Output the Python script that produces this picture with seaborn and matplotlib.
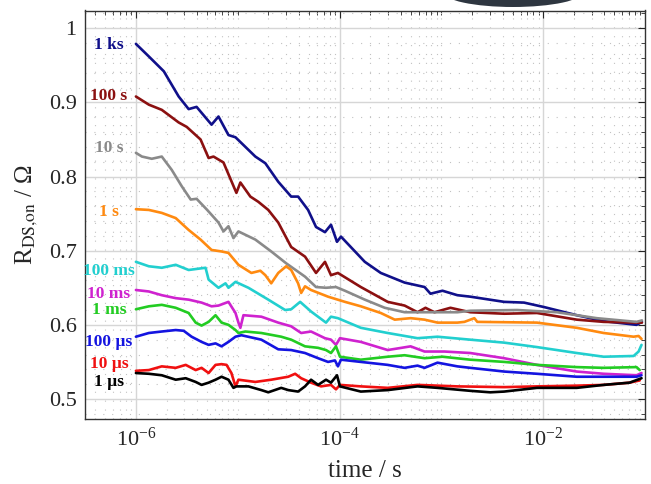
import numpy as np
import pandas as pd
import matplotlib
matplotlib.use("Agg")
import matplotlib.pyplot as plt
import seaborn as sns
from matplotlib.ticker import FixedLocator, LogLocator, MultipleLocator, FuncFormatter, LogFormatterMathtext, NullFormatter
from matplotlib.patches import Ellipse

# ---------------- data (time given as log10 exponent, resistance in Ohm) ----------------
labels = ['1 ks', '100 s', '10 s', '1 s', '100 ms', '10 ms', '1 ms', '100 µs', '10 µs', '1 µs']
colors = ['#10108a', '#8b1010', '#8a8a8a', '#ff8a10', '#22cfcf', '#cf22cf', '#22cc22', '#1414e0', '#f01010', '#000000']
label_y = [0.978, 0.908, 0.839, 0.752, 0.673, 0.641, 0.620, 0.577, 0.547, 0.523]

e_1ks = [-6.0, -5.873, -5.726, -5.580, -5.482, -5.404, -5.257, -5.189, -5.091, -5.022, -4.827, -4.729, -4.602, -4.475, -4.407, -4.309, -4.231, -4.143, -4.084, -4.025, -3.986, -3.752, -3.595, -3.361, -3.165, -3.107, -2.989, -2.843, -2.716, -2.383, -2.188, -1.992, -1.670, -1.406, -1.083, -1.03]
r_1ks = [0.979, 0.962, 0.942, 0.908, 0.891, 0.894, 0.870, 0.881, 0.856, 0.853, 0.827, 0.818, 0.793, 0.773, 0.773, 0.755, 0.732, 0.725, 0.735, 0.712, 0.719, 0.685, 0.670, 0.657, 0.651, 0.642, 0.646, 0.640, 0.638, 0.631, 0.630, 0.624, 0.613, 0.605, 0.600, 0.604]

e_100s = [-6.0, -5.873, -5.746, -5.580, -5.501, -5.365, -5.286, -5.238, -5.140, -5.013, -4.974, -4.876, -4.798, -4.700, -4.602, -4.475, -4.339, -4.231, -4.143, -4.084, -4.016, -3.791, -3.527, -3.361, -3.234, -3.156, -3.068, -2.911, -2.716, -2.383, -2.061, -1.670, -1.406, -1.083, -1.03]
r_100s = [0.908, 0.897, 0.890, 0.873, 0.867, 0.850, 0.825, 0.827, 0.819, 0.778, 0.792, 0.773, 0.766, 0.755, 0.738, 0.705, 0.692, 0.670, 0.685, 0.667, 0.670, 0.651, 0.631, 0.626, 0.617, 0.623, 0.617, 0.623, 0.617, 0.615, 0.616, 0.607, 0.604, 0.603, 0.603]

e_10s = [-6.0, -5.941, -5.844, -5.746, -5.648, -5.550, -5.462, -5.404, -5.300, -5.189, -5.140, -5.091, -5.042, -4.993, -4.827, -4.671, -4.524, -4.339, -4.231, -4.133, -4.035, -3.947, -3.752, -3.556, -3.361, -3.165, -2.843, -2.716, -2.256, -1.865, -1.474, -1.083, -1.03]
r_10s = [0.832, 0.827, 0.824, 0.827, 0.809, 0.787, 0.769, 0.770, 0.755, 0.738, 0.726, 0.733, 0.717, 0.726, 0.715, 0.699, 0.683, 0.665, 0.651, 0.650, 0.651, 0.646, 0.634, 0.623, 0.617, 0.617, 0.617, 0.619, 0.620, 0.617, 0.609, 0.604, 0.606]

e_1s = [-6.0, -5.873, -5.746, -5.609, -5.482, -5.365, -5.257, -5.159, -5.091, -4.993, -4.866, -4.778, -4.729, -4.671, -4.602, -4.524, -4.475, -4.407, -4.377, -4.339, -4.280, -4.113, -3.947, -3.791, -3.595, -3.458, -3.302, -3.165, -3.038, -2.843, -2.774, -2.676, -2.647, -2.061, -1.670, -1.406, -1.112, -1.063, -1.034]
r_1s = [0.756, 0.755, 0.751, 0.744, 0.728, 0.715, 0.701, 0.699, 0.697, 0.681, 0.670, 0.673, 0.667, 0.656, 0.670, 0.679, 0.674, 0.656, 0.643, 0.652, 0.647, 0.638, 0.631, 0.625, 0.616, 0.607, 0.609, 0.607, 0.603, 0.603, 0.604, 0.609, 0.604, 0.603, 0.596, 0.589, 0.584, 0.585, 0.581]

e_100ms = [-6.0, -5.873, -5.746, -5.609, -5.482, -5.316, -5.286, -5.189, -5.120, -5.091, -5.022, -4.895, -4.700, -4.534, -4.475, -4.387, -4.280, -4.133, -4.084, -4.016, -3.791, -3.527, -3.234, -3.038, -2.716, -2.383, -2.061, -1.670, -1.406, -1.112, -1.063, -1.034]
r_100ms = [0.685, 0.679, 0.677, 0.681, 0.674, 0.677, 0.661, 0.650, 0.656, 0.650, 0.658, 0.650, 0.634, 0.620, 0.621, 0.631, 0.618, 0.603, 0.611, 0.609, 0.596, 0.589, 0.582, 0.584, 0.580, 0.576, 0.570, 0.562, 0.557, 0.558, 0.564, 0.573]

e_10ms = [-6.0, -5.873, -5.746, -5.609, -5.482, -5.355, -5.257, -5.189, -5.091, -5.022, -4.993, -4.974, -4.944, -4.768, -4.602, -4.475, -4.377, -4.280, -4.143, -4.084, -4.035, -3.996, -3.791, -3.527, -3.302, -3.165, -2.970, -2.716, -2.383, -2.061, -1.670, -1.406, -1.083, -1.034]
r_10ms = [0.647, 0.645, 0.640, 0.636, 0.634, 0.630, 0.625, 0.626, 0.631, 0.616, 0.603, 0.596, 0.613, 0.611, 0.603, 0.598, 0.589, 0.591, 0.582, 0.580, 0.573, 0.582, 0.577, 0.566, 0.571, 0.564, 0.564, 0.562, 0.555, 0.546, 0.537, 0.534, 0.532, 0.535]

e_1ms = [-6.0, -5.873, -5.746, -5.609, -5.482, -5.413, -5.355, -5.286, -5.218, -5.159, -5.091, -5.022, -4.993, -4.925, -4.768, -4.573, -4.475, -4.339, -4.211, -4.133, -4.084, -4.035, -3.996, -3.791, -3.527, -3.361, -3.165, -2.989, -2.716, -2.383, -2.061, -1.670, -1.406, -1.083, -1.052]
r_1ms = [0.621, 0.625, 0.627, 0.623, 0.616, 0.603, 0.599, 0.604, 0.613, 0.603, 0.600, 0.593, 0.589, 0.591, 0.589, 0.584, 0.580, 0.571, 0.569, 0.566, 0.562, 0.571, 0.557, 0.553, 0.557, 0.559, 0.555, 0.557, 0.553, 0.550, 0.546, 0.543, 0.542, 0.543, 0.539]

e_100us = [-6.0, -5.873, -5.746, -5.609, -5.531, -5.453, -5.355, -5.286, -5.218, -5.159, -5.091, -5.022, -4.964, -4.768, -4.602, -4.475, -4.339, -4.211, -4.113, -4.045, -4.016, -3.986, -3.791, -3.527, -3.361, -3.234, -3.165, -3.038, -2.843, -2.716, -2.383, -2.061, -1.670, -1.406, -1.083, -1.034]
r_100us = [0.584, 0.589, 0.591, 0.593, 0.592, 0.584, 0.577, 0.573, 0.575, 0.571, 0.577, 0.584, 0.586, 0.580, 0.567, 0.566, 0.562, 0.555, 0.550, 0.552, 0.544, 0.553, 0.550, 0.546, 0.542, 0.545, 0.542, 0.549, 0.544, 0.542, 0.537, 0.534, 0.530, 0.530, 0.530, 0.532]

e_10us = [-6.0, -5.873, -5.746, -5.609, -5.511, -5.413, -5.355, -5.286, -5.218, -5.159, -5.110, -5.062, -5.022, -4.993, -4.827, -4.671, -4.504, -4.436, -4.377, -4.280, -4.182, -4.084, -4.035, -3.996, -3.791, -3.527, -3.234, -2.843, -2.383, -2.061, -1.670, -1.406, -1.152, -1.052]
r_10us = [0.538, 0.539, 0.544, 0.542, 0.546, 0.539, 0.542, 0.535, 0.546, 0.547, 0.546, 0.535, 0.517, 0.526, 0.523, 0.526, 0.530, 0.534, 0.528, 0.522, 0.517, 0.519, 0.513, 0.519, 0.517, 0.515, 0.519, 0.517, 0.516, 0.517, 0.518, 0.519, 0.522, 0.525]

e_1us = [-6.0, -5.873, -5.746, -5.609, -5.511, -5.413, -5.355, -5.286, -5.218, -5.159, -5.091, -5.042, -5.013, -4.895, -4.768, -4.700, -4.573, -4.504, -4.407, -4.339, -4.280, -4.211, -4.133, -4.084, -4.025, -3.996, -3.791, -3.527, -3.234, -3.038, -2.716, -2.520, -2.383, -2.061, -1.670, -1.406, -1.152, -1.034]
r_1us = [0.535, 0.534, 0.532, 0.526, 0.528, 0.523, 0.519, 0.522, 0.526, 0.530, 0.526, 0.515, 0.517, 0.517, 0.512, 0.509, 0.515, 0.512, 0.510, 0.517, 0.526, 0.519, 0.526, 0.522, 0.532, 0.517, 0.510, 0.512, 0.517, 0.515, 0.511, 0.509, 0.510, 0.515, 0.515, 0.519, 0.522, 0.528]

exps = [e_1ks, e_100s, e_10s, e_1s, e_100ms, e_10ms, e_1ms, e_100us, e_10us, e_1us]
vals = [r_1ks, r_100s, r_10s, r_1s, r_100ms, r_10ms, r_1ms, r_100us, r_10us, r_1us]

frames = []
for lab, e, r in zip(labels, exps, vals):
    frames.append(pd.DataFrame({'time': np.power(10.0, e), 'R': r, 'dur': lab}))
df = pd.concat(frames, ignore_index=True)

# ---------------- style ----------------
sns.set_style('white')
plt.rcParams['font.family'] = ['Liberation Serif', 'DejaVu Serif']
plt.rcParams['mathtext.fontset'] = 'stix'

fig = plt.figure(figsize=(6.51, 4.84), dpi=100)
ax = fig.add_axes([85 / 651, 1 - 419 / 484, 560 / 651, 408.5 / 484])

sns.lineplot(data=df, x='time', y='R', hue='dur', hue_order=labels,
             palette=dict(zip(labels, colors)), units='dur', estimator=None,
             sort=False, linewidth=1.9, legend=False, ax=ax)

ax.set_xscale('log')
ax.set_xlim(10 ** -6.5, 10 ** -1.0)
ax.set_ylim(0.473, 1.024)

ax.xaxis.set_major_locator(FixedLocator([1e-6, 1e-4, 1e-2]))
ax.xaxis.set_major_formatter(LogFormatterMathtext())
ax.xaxis.set_minor_locator(LogLocator(base=10, subs=np.arange(1, 10), numticks=100))
ax.xaxis.set_minor_formatter(NullFormatter())
ax.yaxis.set_major_locator(MultipleLocator(0.1))
ax.yaxis.set_minor_locator(MultipleLocator(0.02))
ax.yaxis.set_major_formatter(FuncFormatter(lambda v, p: '%g' % round(v, 2)))

ax.grid(which='major', color='#d6d6d6', linewidth=1.0, linestyle='-')
ax.grid(which='minor', color='#c2c2c2', linewidth=0.8, linestyle=(0, (1, 7)))
ax.set_axisbelow(True)

ax.tick_params(which='both', direction='in', top=True, right=True, colors='#262626', labelcolor='#262626')
ax.tick_params(which='major', length=5, width=0.8, labelsize=16, pad=6)
ax.tick_params(which='minor', length=3, width=0.6)
for s in ax.spines.values():
    s.set_color('#333333')
    s.set_linewidth(1.0)

ax.set_xlabel('time / s', fontsize=18, color='#262626', labelpad=7)
ax.set_ylabel(r'R$_{\mathrm{DS{,}on}}$ / Ω', fontsize=18, color='#262626', labelpad=6)

for lab, c, yv in zip(labels, colors, label_y):
    ax.text(10 ** -6.264, yv, lab, color=c, ha='center', va='center',
            fontsize=12.5, fontweight='bold')

fig.add_artist(Ellipse((513 / 651, 1 + 8 / 484), width=140 / 651, height=30 / 484,
                       transform=fig.transFigure, facecolor='#2e3640', edgecolor='none'))

fig.savefig('out.png', dpi=100)
